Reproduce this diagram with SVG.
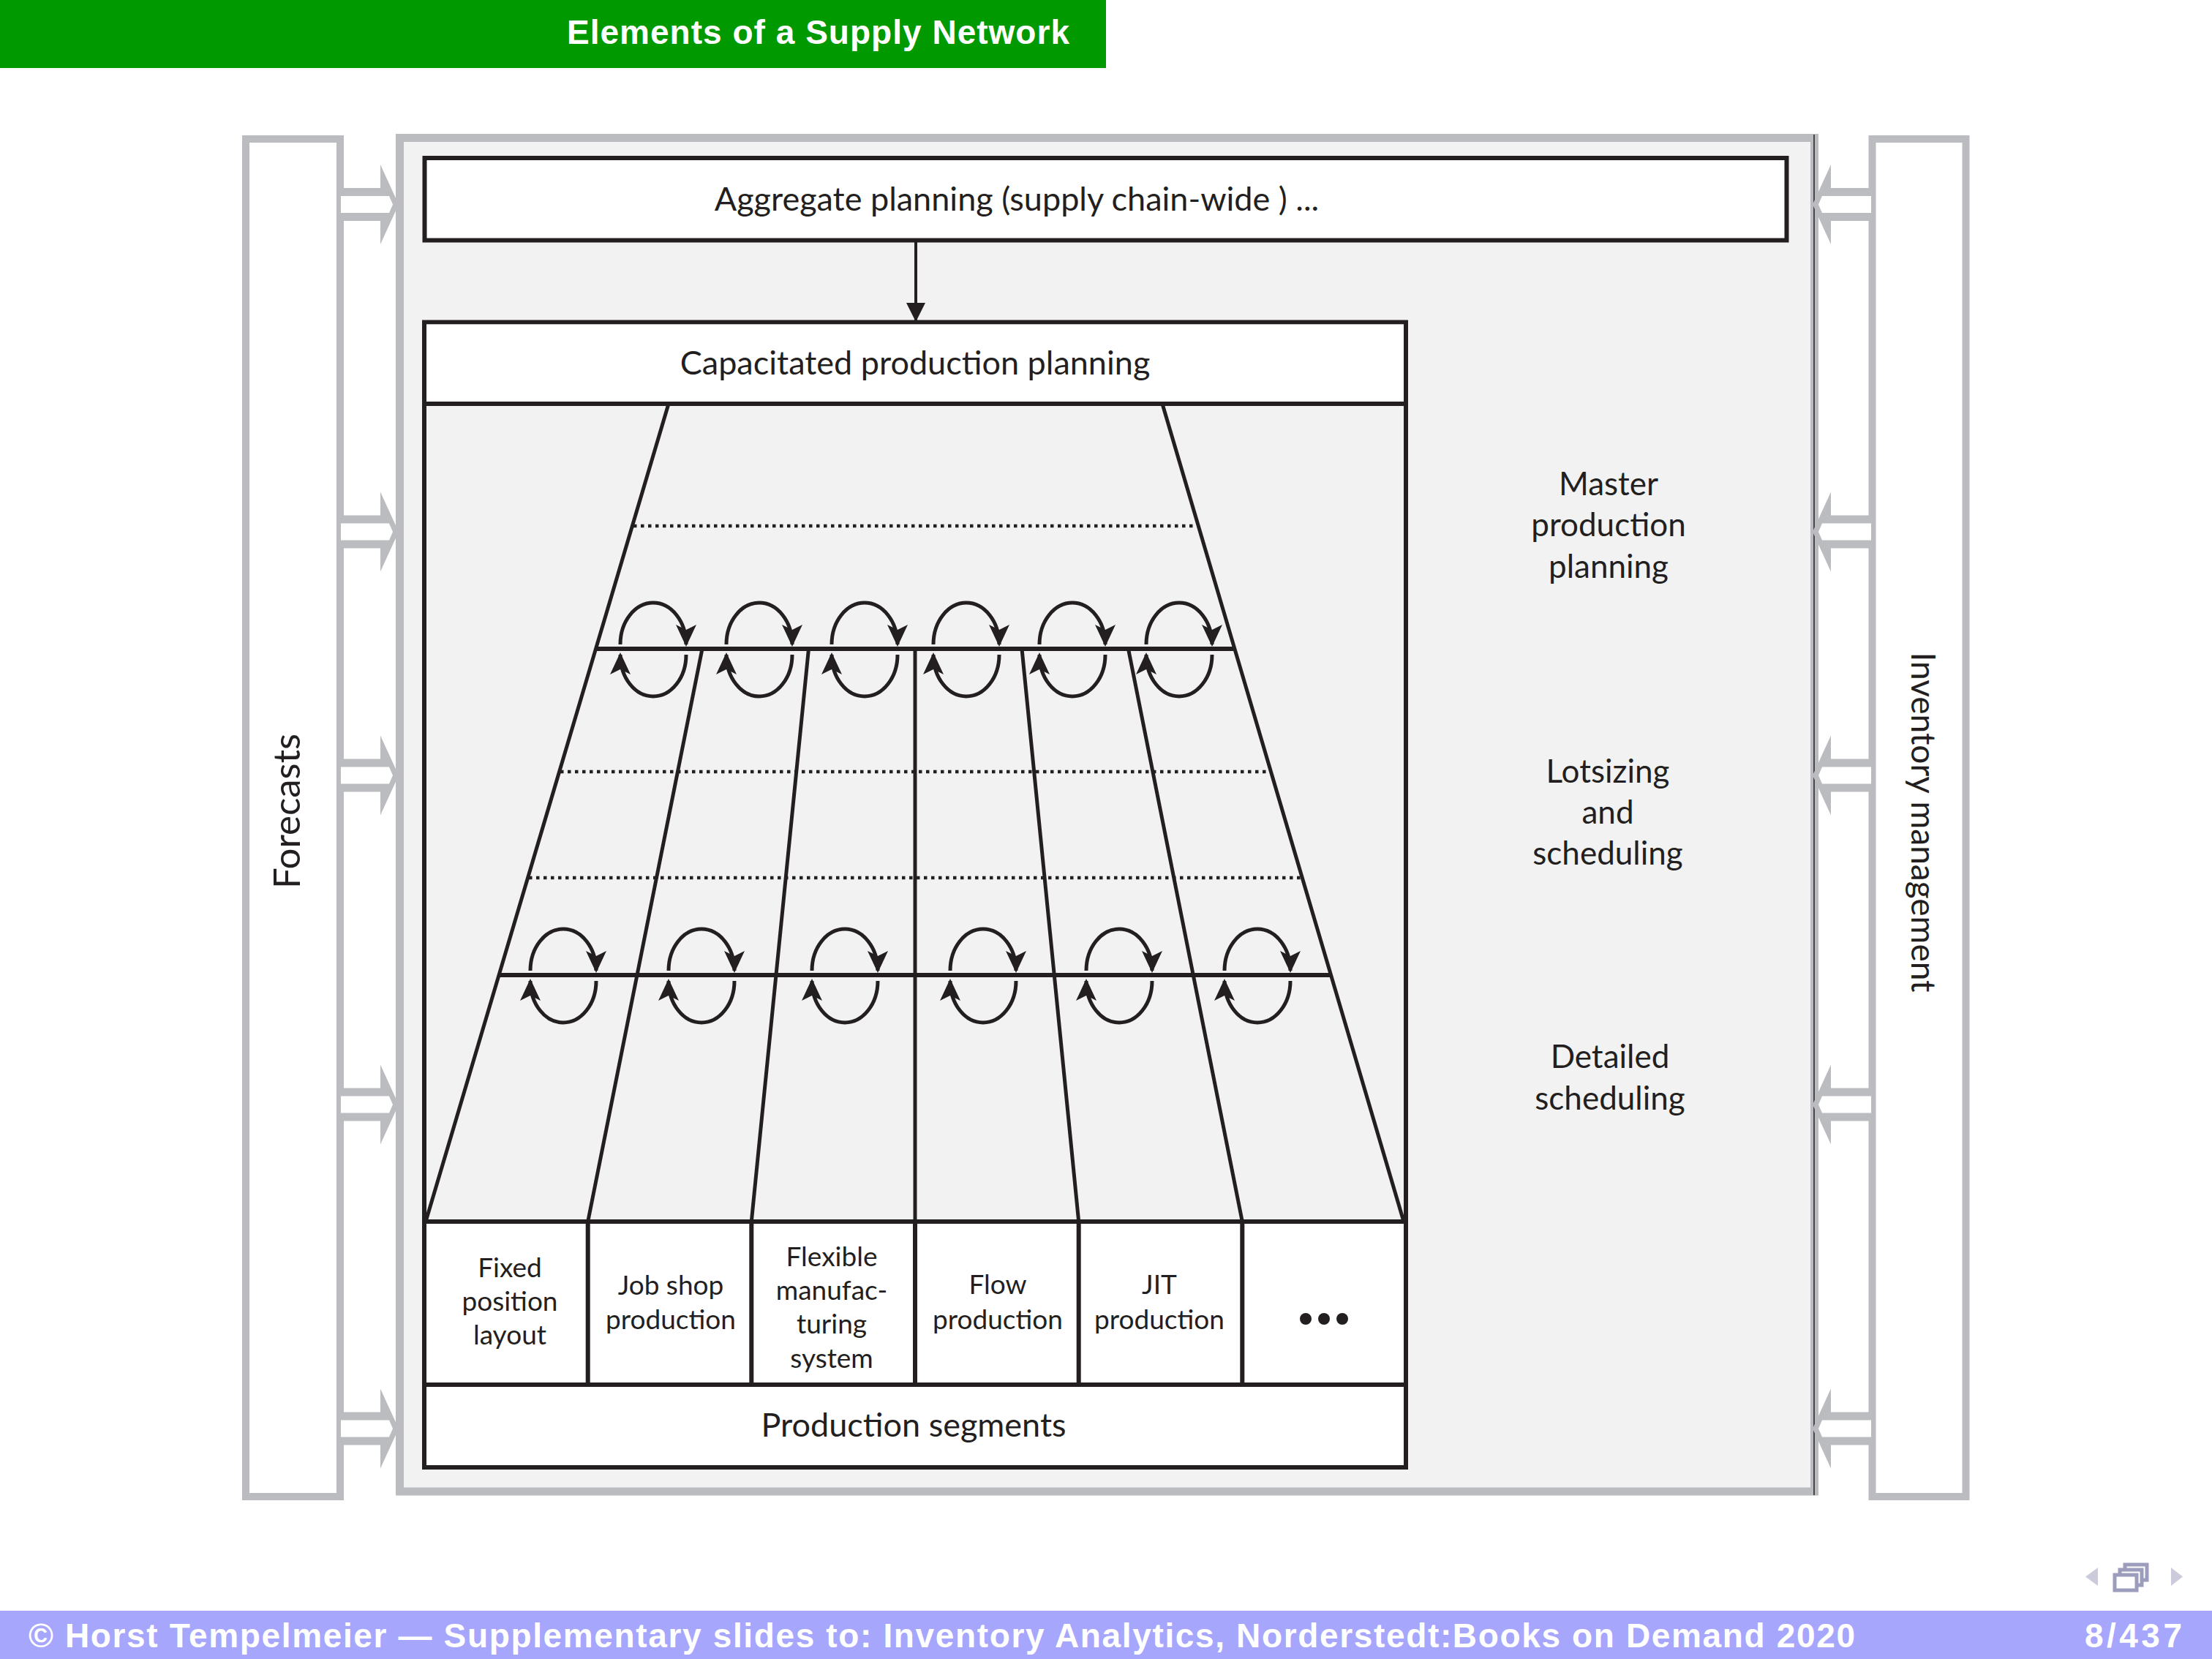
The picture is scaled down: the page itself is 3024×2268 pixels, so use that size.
<svg xmlns="http://www.w3.org/2000/svg" xmlns:xlink="http://www.w3.org/1999/xlink" width="3024" height="2268" viewBox="0 0 3024 2268">
<defs>
<style>
.t{font-family:Lato,"Noto Sans","DejaVu Sans",sans-serif;fill:#231f20;text-anchor:middle}
.big{font-size:45px}
.seg{font-size:37px}
.lbl{font-size:44px}
.ln{stroke:#231f20;fill:none;stroke-width:5}
.hl{stroke:#231f20;fill:none;stroke-width:6}
.dot{stroke:#231f20;stroke-width:4.5;stroke-dasharray:4.5 5.5;fill:none}
.cyc{stroke:#231f20;stroke-width:5;fill:none;marker-end:url(#ah)}
.gray{fill:#bbbcc0}
.hdr{font-family:"Liberation Sans",Arial,sans-serif;fill:#ffffff;font-weight:bold}
</style>
<marker id="ah" markerUnits="userSpaceOnUse" markerWidth="32" markerHeight="30" refX="27" refY="14" orient="auto" viewBox="0 0 32 30">
<path d="M0,0 L30,14 L0,28 L7,14 Z" fill="#231f20"/>
</marker>
<marker id="ahv" markerUnits="userSpaceOnUse" markerWidth="28" markerHeight="28" refX="26" refY="13" orient="auto" viewBox="0 0 28 28">
<path d="M0,0 L26,13 L0,26 Z" fill="#231f20"/>
</marker>
<g id="larrow">
<path class="gray" d="M462,-22.5 H520 V-54.5 L545,0 L520,54.5 V22.5 H462 Z"/>
<path fill="#ffffff" d="M466,-11.5 H532 L537,0 L532,11.5 H466 Z"/>
</g>
<g id="rarrow">
<path class="gray" d="M2562,-22.5 H2503 V-54.5 L2478,0 L2503,54.5 V22.5 H2562 Z"/>
<path fill="#ffffff" d="M2558,-11.5 H2491 L2486,0 L2491,11.5 H2558 Z"/>
</g>
</defs>

<rect x="0" y="0" width="3024" height="2268" fill="#ffffff"/>

<g id="header">
<rect x="0" y="0" width="1512" height="93" fill="#009a00"/>
<text class="hdr" x="775" y="60" font-size="46" textLength="687" lengthAdjust="spacing">Elements of a Supply Network</text>
</g>

<g id="frame">
<rect x="546.5" y="188.5" width="1934" height="1850.5" fill="#f2f2f2" stroke="#bbbcc0" stroke-width="11"/>
</g>

<g id="forecasts">
<rect x="336" y="190" width="129" height="1856" fill="#ffffff" stroke="#bbbcc0" stroke-width="10"/>
<text class="t" font-size="51" transform="translate(410,1109) rotate(-90)">Forecasts</text>
</g>

<g id="inventory">
<rect x="2559.5" y="190" width="128" height="1856" fill="#ffffff" stroke="#bbbcc0" stroke-width="10"/>
<text class="t" font-size="46" transform="translate(2613,1124) rotate(90)">Inventory management</text>
</g>

<g id="connectors">
<line x1="2480" y1="184" x2="2480" y2="2044" stroke="#231f20" stroke-width="1.5"/>
<use xlink:href="#larrow" href="#larrow" transform="translate(0,279.5)"/>
<use xlink:href="#larrow" href="#larrow" transform="translate(0,727)"/>
<use xlink:href="#larrow" href="#larrow" transform="translate(0,1060)"/>
<use xlink:href="#larrow" href="#larrow" transform="translate(0,1510)"/>
<use xlink:href="#larrow" href="#larrow" transform="translate(0,1953)"/>
<use xlink:href="#rarrow" href="#rarrow" transform="translate(0,279.5)"/>
<use xlink:href="#rarrow" href="#rarrow" transform="translate(0,727)"/>
<use xlink:href="#rarrow" href="#rarrow" transform="translate(0,1060)"/>
<use xlink:href="#rarrow" href="#rarrow" transform="translate(0,1510)"/>
<use xlink:href="#rarrow" href="#rarrow" transform="translate(0,1953)"/>
<line x1="1252" y1="328" x2="1252" y2="440" stroke="#231f20" stroke-width="4" marker-end="url(#ahv)"/>
</g>

<g id="aggregate">
<rect x="580.5" y="216" width="1862" height="112.5" fill="#ffffff" stroke="#231f20" stroke-width="6"/>
<text class="t big" x="1390" y="288">Aggregate planning (supply chain-wide ) ...</text>
</g>

<g id="production-box">
<rect x="580" y="440.5" width="1342" height="1565.5" fill="#f2f2f2" stroke="#231f20" stroke-width="6"/>
<rect x="583" y="443.5" width="1336" height="108.5" fill="#ffffff"/>
<rect x="583" y="1670" width="1336" height="333" fill="#ffffff"/>
<line class="hl" x1="580" y1="552" x2="1922" y2="552"/>
<line class="hl" x1="580" y1="1670" x2="1922" y2="1670"/>
<line class="hl" x1="580" y1="1893" x2="1922" y2="1893"/>
<text class="t big" x="1251" y="512">Capacitated production planning</text>
<text class="t big" x="1249" y="1964">Production segments</text>
</g>

<g id="trapezoid">
<line class="ln" x1="914" y1="552" x2="582" y2="1670"/>
<line class="ln" x1="1589" y1="552" x2="1919" y2="1670"/>
<line class="dot" x1="866" y1="719" x2="1636" y2="719"/>
<line class="dot" x1="766" y1="1055" x2="1736" y2="1055"/>
<line class="dot" x1="723" y1="1200" x2="1779" y2="1200"/>
<line class="hl" x1="813" y1="887" x2="1689" y2="887"/>
<line class="hl" x1="681" y1="1333" x2="1821" y2="1333"/>
<line class="ln" x1="960" y1="887" x2="803.7" y2="1670"/>
<line class="ln" x1="1105.5" y1="887" x2="1027.3" y2="1670"/>
<line class="ln" x1="1251" y1="887" x2="1251" y2="1670"/>
<line class="ln" x1="1397" y1="887" x2="1474.7" y2="1670"/>
<line class="ln" x1="1542.5" y1="887" x2="1698.3" y2="1670"/>
<line class="hl" x1="803.7" y1="1670" x2="803.7" y2="1893"/>
<line class="hl" x1="1027.3" y1="1670" x2="1027.3" y2="1893"/>
<line class="hl" x1="1251" y1="1670" x2="1251" y2="1893"/>
<line class="hl" x1="1474.7" y1="1670" x2="1474.7" y2="1893"/>
<line class="hl" x1="1698.3" y1="1670" x2="1698.3" y2="1893"/>
</g>

<g id="cycles-top">
<path class="cyc" d="M848,881 A45,57 0 0 1 938,881"/><path class="cyc" d="M938,895 A45,57 0 0 1 848,895"/>
<path class="cyc" d="M993,881 A45,57 0 0 1 1083,881"/><path class="cyc" d="M1083,895 A45,57 0 0 1 993,895"/>
<path class="cyc" d="M1137,881 A45,57 0 0 1 1227,881"/><path class="cyc" d="M1227,895 A45,57 0 0 1 1137,895"/>
<path class="cyc" d="M1276,881 A45,57 0 0 1 1366,881"/><path class="cyc" d="M1366,895 A45,57 0 0 1 1276,895"/>
<path class="cyc" d="M1421,881 A45,57 0 0 1 1511,881"/><path class="cyc" d="M1511,895 A45,57 0 0 1 1421,895"/>
<path class="cyc" d="M1567,881 A45,57 0 0 1 1657,881"/><path class="cyc" d="M1657,895 A45,57 0 0 1 1567,895"/>
</g>

<g id="cycles-bottom">
<path class="cyc" d="M725,1327 A45,57 0 0 1 815,1327"/><path class="cyc" d="M815,1341 A45,57 0 0 1 725,1341"/>
<path class="cyc" d="M914,1327 A45,57 0 0 1 1004,1327"/><path class="cyc" d="M1004,1341 A45,57 0 0 1 914,1341"/>
<path class="cyc" d="M1110,1327 A45,57 0 0 1 1200,1327"/><path class="cyc" d="M1200,1341 A45,57 0 0 1 1110,1341"/>
<path class="cyc" d="M1299,1327 A45,57 0 0 1 1389,1327"/><path class="cyc" d="M1389,1341 A45,57 0 0 1 1299,1341"/>
<path class="cyc" d="M1485,1327 A45,57 0 0 1 1575,1327"/><path class="cyc" d="M1575,1341 A45,57 0 0 1 1485,1341"/>
<path class="cyc" d="M1674,1327 A45,57 0 0 1 1764,1327"/><path class="cyc" d="M1764,1341 A45,57 0 0 1 1674,1341"/>
</g>

<g id="seg-fixed"><text class="t seg" x="697" y="1746">Fixed</text><text class="t seg" x="697" y="1792">position</text><text class="t seg" x="697" y="1838">layout</text></g>
<g id="seg-jobshop"><text class="t seg" x="917" y="1770">Job shop</text><text class="t seg" x="917" y="1817">production</text></g>
<g id="seg-fms"><text class="t seg" x="1137" y="1731">Flexible</text><text class="t seg" x="1137" y="1777">manufac-</text><text class="t seg" x="1137" y="1823">turing</text><text class="t seg" x="1137" y="1870">system</text></g>
<g id="seg-flow"><text class="t seg" x="1364" y="1769">Flow</text><text class="t seg" x="1364" y="1817">production</text></g>
<g id="seg-jit"><text class="t seg" x="1585" y="1769">JIT</text><text class="t seg" x="1585" y="1817">production</text></g>
<g id="seg-more" fill="#231f20"><circle cx="1785" cy="1803" r="8"/><circle cx="1810" cy="1803" r="8"/><circle cx="1835" cy="1803" r="8"/></g>

<g id="lbl-mpp"><text class="t lbl" x="2199" y="677">Master</text><text class="t lbl" x="2199" y="733">production</text><text class="t lbl" x="2199" y="790">planning</text></g>
<g id="lbl-lot"><text class="t lbl" x="2198" y="1070">Lotsizing</text><text class="t lbl" x="2198" y="1126">and</text><text class="t lbl" x="2198" y="1182">scheduling</text></g>
<g id="lbl-det"><text class="t lbl" x="2201" y="1460">Detailed</text><text class="t lbl" x="2201" y="1517">scheduling</text></g>

<g id="footer">
<g id="nav">
<polygon points="2868,2143 2851,2155.5 2868,2168" fill="#cbcbdc"/>
<rect x="2905" y="2139" width="30" height="21" fill="#ffffff" stroke="#9c9cbc" stroke-width="5"/>
<rect x="2898" y="2146" width="30" height="21" fill="#ffffff" stroke="#9c9cbc" stroke-width="5"/>
<rect x="2891" y="2153" width="30" height="21" fill="#ffffff" stroke="#9c9cbc" stroke-width="5"/>
<polygon points="2968,2143 2984,2155.5 2968,2168" fill="#cbcbdc"/>
</g>
<rect x="0" y="2202" width="3024" height="66" fill="#a6a6fd"/>
<text class="hdr" x="39" y="2252" font-size="46" textLength="2497" lengthAdjust="spacing">© Horst Tempelmeier — Supplementary slides to: Inventory Analytics, Norderstedt:Books on Demand 2020</text>
<text class="hdr" x="2850" y="2252" font-size="46" textLength="133" lengthAdjust="spacing">8/437</text>
</g>
</svg>
